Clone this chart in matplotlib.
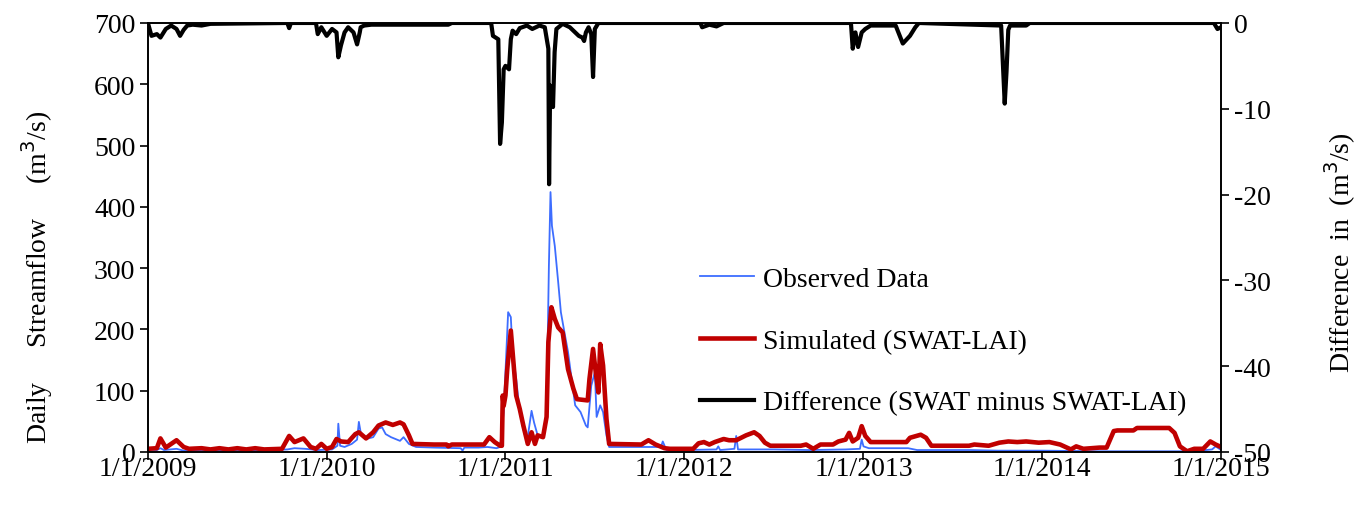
import numpy as np
import pandas as pd
import matplotlib
matplotlib.use("Agg")
import matplotlib.pyplot as plt

plt.rcParams['font.family'] = ['Liberation Serif', 'DejaVu Serif']

# ---- data (time in decimal years) ----
obs_t = [2009.00, 2009.05, 2009.07, 2009.09, 2009.16, 2009.20, 2009.30, 2009.40, 2009.50, 2009.60,
         2009.70, 2009.78, 2009.82, 2009.88, 2009.95, 2010.03, 2010.06, 2010.065, 2010.075, 2010.10,
         2010.14, 2010.17, 2010.18, 2010.19, 2010.22, 2010.26, 2010.29, 2010.31, 2010.33, 2010.36,
         2010.41, 2010.43, 2010.46, 2010.50, 2010.60, 2010.75, 2010.76, 2010.77, 2010.85, 2010.90,
         2010.95, 2010.97, 2010.99, 2011.015, 2011.03, 2011.04, 2011.06, 2011.08, 2011.10, 2011.12,
         2011.146, 2011.16, 2011.18, 2011.21, 2011.23, 2011.243, 2011.252, 2011.26, 2011.276, 2011.295,
         2011.31, 2011.33, 2011.35, 2011.37, 2011.39, 2011.42, 2011.45, 2011.46, 2011.48, 2011.50,
         2011.51, 2011.53, 2011.546, 2011.565, 2011.58, 2011.70, 2011.87, 2011.88, 2011.90, 2012.00,
         2012.18, 2012.19, 2012.20, 2012.28, 2012.29, 2012.30, 2012.50, 2012.70, 2012.90, 2012.98,
         2012.99, 2013.00, 2013.03, 2013.25, 2013.30, 2013.60, 2013.75, 2014.00, 2014.30, 2014.60,
         2014.85, 2014.95, 2014.97, 2015.00]
obs_v = [4, 3, 6, 3, 5, 2, 3, 2, 3, 2,
         3, 4, 6, 5, 3, 4, 10, 46, 10, 8,
         13, 20, 49, 32, 21, 24, 38, 40, 29, 24,
         18, 24, 13, 8, 7, 6, 2, 7, 7, 8,
         6, 8, 65, 228, 220, 162, 119, 65, 37, 16,
         67, 48, 27, 24, 65, 304, 424, 369, 336, 277,
         228, 195, 163, 119, 76, 65, 43, 40, 108, 130,
         57, 76, 65, 27, 8, 8, 8, 17, 3, 3,
         4, 9, 3, 5, 26, 4, 4, 3, 4, 5,
         20, 9, 6, 6, 3, 3, 2, 2, 1, 1,
         1, 4, 9, 3]

sim_t = [2009.00, 2009.05, 2009.07, 2009.10, 2009.16, 2009.20, 2009.23, 2009.30, 2009.35, 2009.40,
         2009.45, 2009.50, 2009.55, 2009.60, 2009.65, 2009.75, 2009.79, 2009.82, 2009.87, 2009.91,
         2009.94, 2009.97, 2010.00, 2010.03, 2010.055, 2010.08, 2010.12, 2010.16, 2010.18, 2010.22,
         2010.26, 2010.29, 2010.33, 2010.37, 2010.41, 2010.43, 2010.46, 2010.48, 2010.60, 2010.67,
         2010.68, 2010.70, 2010.88, 2010.91, 2010.94, 2010.97, 2010.98, 2010.985, 2010.99, 2011.00,
         2011.01, 2011.03, 2011.04, 2011.06, 2011.08, 2011.10, 2011.125, 2011.146, 2011.165, 2011.18,
         2011.21, 2011.23, 2011.24, 2011.257, 2011.276, 2011.295, 2011.32, 2011.35, 2011.38, 2011.40,
         2011.46, 2011.47, 2011.49, 2011.505, 2011.52, 2011.53, 2011.546, 2011.565, 2011.58, 2011.76,
         2011.80, 2011.84, 2011.89, 2011.92, 2012.05, 2012.08, 2012.11, 2012.14, 2012.17, 2012.22,
         2012.25, 2012.29, 2012.345, 2012.39, 2012.42, 2012.45, 2012.48, 2012.65, 2012.68, 2012.72,
         2012.76, 2012.83, 2012.86, 2012.90, 2012.92, 2012.94, 2012.97, 2012.99, 2013.01, 2013.04,
         2013.24, 2013.26, 2013.32, 2013.35, 2013.38, 2013.59, 2013.62, 2013.70, 2013.76, 2013.81,
         2013.86, 2013.91, 2013.98, 2014.04, 2014.10, 2014.16, 2014.19, 2014.23, 2014.32, 2014.36,
         2014.40, 2014.42, 2014.51, 2014.53, 2014.71, 2014.74, 2014.77, 2014.81, 2014.85, 2014.90,
         2014.94, 2014.97, 2015.00]
sim_v = [5, 6, 22, 7, 19, 8, 5, 6, 4, 6,
         4, 6, 4, 6, 4, 5, 26, 16, 22, 8,
         5, 13, 5, 8, 21, 17, 16, 29, 32, 22,
         32, 43, 48, 44, 48, 45, 27, 13, 12, 12,
         9, 12, 12, 24, 16, 10, 10, 92, 75, 92,
         135, 198, 162, 92, 70, 43, 13, 32, 13, 27,
         24, 57, 179, 236, 217, 203, 195, 135, 103, 86,
         84, 119, 168, 130, 97, 176, 141, 54, 13, 12,
         19, 12, 6, 5, 5, 14, 16, 12, 16, 21,
         19, 19, 27, 32, 26, 15, 10, 10, 12, 5,
         12, 12, 17, 20, 31, 17, 23, 42, 26, 16,
         16, 23, 28, 23, 10, 10, 12, 10, 15, 17,
         16, 17, 15, 16, 12, 4, 9, 5, 7, 7,
         34, 35, 35, 39, 39, 31, 9, 1, 5, 5,
         17, 12, 8]

diff_t = [2009.00, 2009.02, 2009.05, 2009.07, 2009.10, 2009.13, 2009.16, 2009.18, 2009.20, 2009.22,
          2009.25, 2009.30, 2009.35, 2009.78, 2009.79, 2009.80, 2009.94, 2009.95, 2009.97, 2010.00,
          2010.03, 2010.055, 2010.065, 2010.08, 2010.10, 2010.12, 2010.15, 2010.17, 2010.185, 2010.19,
          2010.21, 2010.25, 2010.68, 2010.70, 2010.92, 2010.93, 2010.96, 2010.97, 2010.98, 2010.99,
          2011.00, 2011.02, 2011.03, 2011.04, 2011.06, 2011.08, 2011.12, 2011.15, 2011.19, 2011.22,
          2011.24, 2011.244, 2011.25, 2011.266, 2011.275, 2011.285, 2011.32, 2011.36, 2011.39, 2011.41,
          2011.43, 2011.44, 2011.45, 2011.465, 2011.48, 2011.49, 2011.50, 2011.52, 2012.09, 2012.10,
          2012.14, 2012.18, 2012.22, 2012.93, 2012.94, 2012.955, 2012.97, 2012.99, 2013.01, 2013.04,
          2013.18, 2013.22, 2013.26, 2013.29, 2013.31, 2013.77, 2013.79, 2013.80, 2013.81, 2013.82,
          2013.91, 2013.93, 2014.96, 2014.98, 2015.00]
diff_v = [0, -1.5, -1.3, -1.7, -0.7, -0.3, -0.7, -1.5, -0.8, -0.3,
          -0.2, -0.3, -0.1, 0, -0.6, 0, 0, -1.3, -0.5, -1.5,
          -0.7, -1.1, -4.0, -2.6, -1.1, -0.5, -1.1, -2.5, -1.1, -0.5,
          -0.3, -0.2, -0.2, 0, 0, -1.5, -1.9, -14.1, -11.6, -5.4,
          -5.0, -5.4, -1.9, -0.9, -1.3, -0.6, -0.3, -0.7, -0.3, -0.5,
          -3.0, -18.8, -7.3, -9.8, -3.4, -0.7, -0.1, -0.5, -1.1, -1.5,
          -1.7, -2.1, -1.1, -0.5, -1.3, -6.3, -0.7, 0, 0, -0.5,
          -0.2, -0.4, 0, 0, -3.0, -1.1, -2.8, -1.1, -0.7, -0.3,
          -0.3, -2.4, -1.5, -0.5, 0, -0.3, -9.4, -5.7, -0.8, -0.3,
          -0.3, 0, 0, -0.7, -0.5]

year_ticks = [2009, 2010, 2011, 2012, 2013, 2014, 2015]
xtick_labels = ["1/1/2009", "1/1/2010", "1/1/2011", "1/1/2012", "1/1/2013", "1/1/2014", "1/1/2015"]
left_ticks = [0, 100, 200, 300, 400, 500, 600, 700]
right_ticks = [0, -10, -20, -30, -40, -50]


def to_dates(ts):
    out = []
    for t in ts:
        y = int(np.floor(t))
        if y >= 2015:
            y = 2015
        start = pd.Timestamp(f"{y}-01-01")
        end = pd.Timestamp(f"{y + 1}-01-01")
        out.append(start + (end - start) * (t - y))
    return pd.to_datetime(out)


fig = plt.figure(figsize=(13.57, 5.10), dpi=100)
ax = fig.add_axes([0.109, 0.112, 0.7908, 0.841])
ax2 = ax.twinx()

l_obs, = ax.plot(to_dates(obs_t), obs_v, color="#3d6dff", lw=1.3, zorder=2)
l_sim, = ax.plot(to_dates(sim_t), sim_v, color="#c00000", lw=3.3, zorder=3)
l_dif, = ax2.plot(to_dates(diff_t), diff_v, color="black", lw=3.0, zorder=3)

ax.set_xlim(pd.Timestamp("2009-01-01"), pd.Timestamp("2015-01-01"))
ax.set_ylim(0, 700)
ax2.set_ylim(-50, 0)

ax.set_xticks([pd.Timestamp(f"{y}-01-01") for y in year_ticks])
ax.set_xticklabels(xtick_labels)
ax.set_yticks(left_ticks)
ax2.set_yticks(right_ticks)
ax2.set_yticklabels([str(v) if v == 0 else "-" + str(abs(v)) for v in right_ticks])

for a in (ax, ax2):
    a.tick_params(direction="out", length=6, width=1.2, labelsize=20, pad=3)
    for s in a.spines.values():
        s.set_linewidth(1.2)
ax.tick_params(axis="x", pad=-3)

ax.set_ylabel("Daily     Streamflow     (m$^3$/s)", fontsize=20)
ax.yaxis.set_label_coords(-0.0867, 0.41)
ax2.set_ylabel("Difference  in  (m$^3$/s)", fontsize=20)
ax2.yaxis.set_label_coords(1.0945, 0.466)

leg = ax2.legend([l_obs, l_sim, l_dif],
                 ["Observed Data", "Simulated (SWAT-LAI)", "Difference (SWAT minus SWAT-LAI)"],
                 loc="upper left", bbox_to_anchor=(0.516, 0.475), bbox_transform=fig.transFigure,
                 frameon=False, fontsize=20, handlelength=1.95, labelspacing=1.3,
                 handletextpad=0.3, borderaxespad=0, borderpad=0)

fig.savefig("out.png", dpi=100)
